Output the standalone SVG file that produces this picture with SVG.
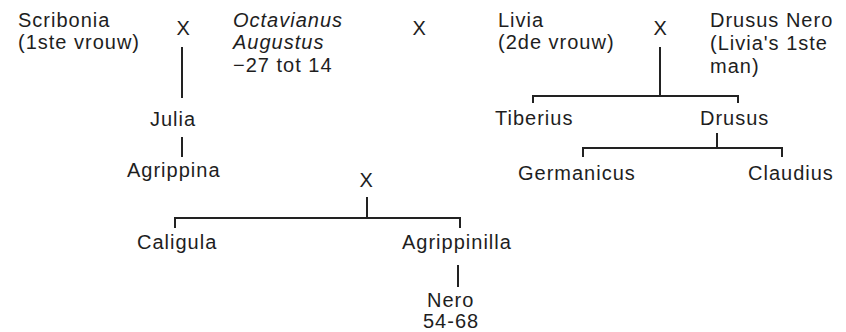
<svg xmlns="http://www.w3.org/2000/svg" width="846" height="332" viewBox="0 0 846 332">
<style>
text{font-family:"Liberation Sans",Arial,sans-serif;font-size:20px;letter-spacing:1px;fill:#1e1e1e}
.it{font-style:italic}
.x{letter-spacing:0}
.c line,.c polyline{stroke:#222;stroke-width:2;fill:none}
</style>
<rect width="846" height="332" fill="#fff"/>
<g id="scribonia"><text x="18" y="27">Scribonia</text><text x="18" y="49">(1ste vrouw)</text></g>
<g id="x1"><text class="x" x="176.5" y="35">X</text></g>
<g id="octavianus"><text class="it" x="233" y="27">Octavianus</text><text class="it" x="233" y="49">Augustus</text><text x="233" y="72">−27 tot 14</text></g>
<g id="x2"><text class="x" x="412.5" y="35">X</text></g>
<g id="livia"><text x="498" y="27">Livia</text><text x="498" y="49">(2de vrouw)</text></g>
<g id="x3"><text class="x" x="653.5" y="35">X</text></g>
<g id="drususnero"><text x="710" y="27">Drusus Nero</text><text x="710" y="50">(Livia's 1ste</text><text x="710" y="73">man)</text></g>
<g id="julia"><text x="150" y="126">Julia</text></g>
<g id="agrippina"><text x="127" y="177">Agrippina</text></g>
<g id="tiberius"><text x="495" y="125">Tiberius</text></g>
<g id="drusus"><text x="700" y="125">Drusus</text></g>
<g id="germanicus"><text x="518" y="180">Germanicus</text></g>
<g id="claudius"><text x="748" y="180">Claudius</text></g>
<g id="x4"><text class="x" x="359.5" y="187">X</text></g>
<g id="caligula"><text x="137" y="249">Caligula</text></g>
<g id="agrippinilla"><text x="402" y="249">Agrippinilla</text></g>
<g id="nero"><text x="427" y="307">Nero</text><text x="423" y="328">54-68</text></g>
<g class="c" id="connectors">
<line x1="182" y1="47" x2="182" y2="98"/>
<line x1="182" y1="137" x2="182" y2="157"/>
<line x1="660" y1="47" x2="660" y2="97"/>
<polyline points="533,103 533,96 738,96 738,103"/>
<line x1="717" y1="133" x2="717" y2="148"/>
<polyline points="583,157 583,148 782,148 782,157"/>
<line x1="367" y1="197" x2="367" y2="218"/>
<polyline points="175,228 175,218 460,218 460,228"/>
<line x1="458" y1="265" x2="458" y2="287"/>
</g>
</svg>
